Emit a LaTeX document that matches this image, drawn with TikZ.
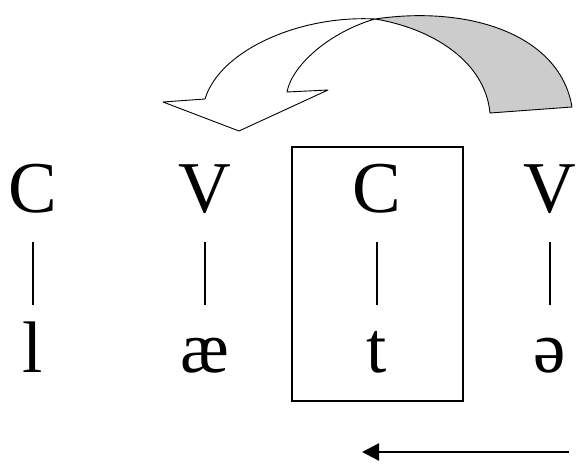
\documentclass[tikz,border=0pt]{standalone}
\usepackage{fontspec}
\setmainfont{Liberation Serif}
\usetikzlibrary{arrows.meta}
\begin{document}
\begin{tikzpicture}[x=1pt,y=-1pt,
  toprow/.style={inner sep=0pt,anchor=base,text height=49pt,text depth=0pt,font=\fontsize{73}{80}\selectfont},
  botrow/.style={inner sep=0pt,anchor=base,text height=50pt,text depth=0pt,font=\fontsize{73}{80}\selectfont},
  bar/.style={line width=1.1pt,shorten <=30pt,shorten >=17pt},
  ribbon/.style={line width=0.9pt,line join=round}]
\useasboundingbox (0,0) rectangle (578,463);
% top row
\node[toprow] (c1) at (33,212) {C};
\node[toprow] (v1) at (205,212) {V};
\node[toprow] (c2) at (377,212) {C};
\node[toprow] (v2) at (550,212) {V};
% bottom row
\node[botrow] (s1) at (33,372) {l};
\node[botrow] (s2) at (205,372) {æ};
\node[botrow] (s3) at (377,372) {t};
\node[botrow] (s4) at (550,372) {ə};
% bars
\draw[bar] (c1.south) -- (s1.north);
\draw[bar] (v1.south) -- (s2.north);
\draw[bar] (c2.south) -- (s3.north);
\draw[bar] (v2.south) -- (s4.north);
% box
\node[draw,line width=1.3pt,minimum width=171pt,minimum height=254pt,inner sep=0pt] (box) at (377.5,274) {};
% curved arrow: grey back part
\draw[ribbon,fill={rgb,255:red,204;green,204;blue,204}]
  (375,19) .. controls (470,5) and (560,35) .. (572,107)
  -- (490,113) .. controls (485,60) and (430,28) .. cycle;
% curved arrow: white front part
\draw[ribbon,fill=white]
  (375,19) .. controls (300,15) and (220,50) .. (205,99)
  -- (163,102) -- (239,131) -- (328,90) -- (287,92)
  .. controls (292,65) and (330,32) .. cycle;
% bottom arrow
\coordinate (a1) at (569,452);
\coordinate (a2) at (362,452);
\draw[line width=2.2pt,-{Triangle[length=17pt,width=17pt]}] (a1) -- (a2);
\end{tikzpicture}
\end{document}
